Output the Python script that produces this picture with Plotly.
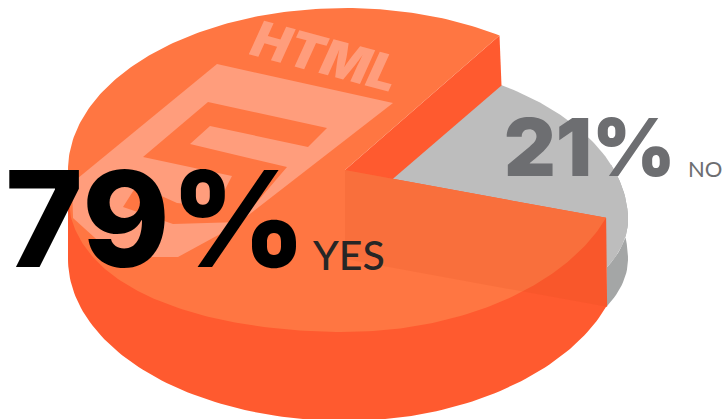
import numpy as np
import plotly.graph_objects as go

# data
categories = ["YES", "NO"]
shares = [79, 21]

# pie geometry in the picture's pixel space
W, H = 723, 419
CX, CY, RX, RY = 345, 170, 277, 162
DEPTH_TOTAL = 89
DROP = 50
GREY_DEPTH = 39
GREY_RX, GREY_RY, GREY_RY_LOW = 283, 162, 125
START = -19.5
wedge = shares[1] / sum(shares) * 360
END = START + wedge


def rim(deg, rx=RX, ry=RY, cx=CX, cy=CY, left_sag=0, right_lift=7, ry_low=None):
    t = np.radians(np.atleast_1d(deg))
    x = cx + rx * np.cos(t)
    s = np.sin(-t)  # positive on the lower half of the picture
    low = ry if ry_low is None else ry_low
    y = cy + np.where(s > 0, low, ry) * s
    ramp = np.clip(s / 0.12, 0, 1)
    y = y + left_sag * np.maximum(0, -np.cos(t)) ** 2 * ramp
    y = y - right_lift * np.maximum(0, np.cos(t)) ** 2 * ramp
    return x, y


def grey_rim(deg):
    return rim(deg, GREY_RX, GREY_RY, CX, CY + DROP, right_lift=0, ry_low=GREY_RY_LOW)


def poly(fig, x, y, color, name):
    fig.add_trace(go.Scatter(x=list(x), y=list(y), mode="lines", fill="toself",
                             fillcolor=color, line=dict(width=0), hoverinfo="skip",
                             name=name, showlegend=False))


fig = go.Figure()

# grey slice, dropped below the orange one (tucked slightly under the orange cut faces)
a = np.linspace(START - 3, END + 1.5, 80)
gx, gy = grey_rim(a)
side_a = np.linspace(START - 3, 20, 30)
sx, sy = grey_rim(side_a)
poly(fig, np.r_[sx, sx[::-1]], np.r_[sy + GREY_DEPTH, sy[::-1]], "#a4a6a6", "NO side")
poly(fig, np.r_[CX, gx], np.r_[CY + DROP, gy], "#bdbdbd", "NO")

# orange slice outer wall
low = np.linspace(START, -180, 120)
lx, ly = rim(low)
r2x, r2y = rim(START)
poly(fig, np.r_[r2x, r2x + 1, lx, CX - RX, CX], np.r_[r2y, r2y + DEPTH_TOTAL, ly + DEPTH_TOTAL, CY, CY],
     "#ff5a2f", "YES wall")

# first cut face
r1x, r1y = rim(END)
poly(fig, [CX, r1x[0], r1x[0] + 2, CX], [CY, r1y[0], r1y[0] + DROP, CY + DROP], "#ff5a2f", "YES cut")

# top face
top = np.linspace(END, 360 + START, 300)
tx, ty = rim(top, left_sag=24)
poly(fig, np.r_[CX, tx], np.r_[CY, ty], "#ff7642", "YES")

# second cut face seen through the top
poly(fig, [CX, r2x[0], r2x[0] + 1, CX], [CY, r2y[0], r2y[0] + DEPTH_TOTAL, CY + DEPTH_TOTAL],
     "rgba(205,70,25,0.13)", "YES cut 2")

light = "#ff9d7c"
shapes = [
    dict(type="path", layer="above", line_width=0, fillcolor=light,
         path="M217,64 L393,103 L233,227 L178,257 L116,257 L73,218 L72,183 Z"),
    dict(type="path", layer="above", line_width=0, fillcolor="#ff7642",
         path="M208,102 L327,128 L308,147 L210,126 L190,144 L287,167 L240,222 L173,224 "
              "L123,207 L137,185 L177,203 L216,207 L232,176 L143,157 Z"),
]

fs = "Inter, Lato, sans-serif"
anns = [
    dict(x=156, y=218, text=f"{shares[0]}%", font=dict(family=fs, size=133, color="#000000", weight=800)),
    dict(x=348, y=254, text=categories[0], font=dict(family="Lato", size=41, color="#262626", weight=500)),
    dict(x=589.5, y=146, text=f"{shares[1]}%", font=dict(family=fs, size=80, color="#6d6e71", weight=900)),
    dict(x=705, y=168, text=categories[1], font=dict(family="Lato", size=22, color="#6d6e71", weight=400)),
    dict(x=325, y=56, text="<i>HTML</i>", textangle=15, font=dict(family=fs, size=50, color=light, weight=900)),
]
for an in anns:
    an.update(xref="x", yref="y", showarrow=False, xanchor="center", yanchor="middle")

fig.update_layout(
    width=W, height=H, margin=dict(l=0, r=0, t=0, b=0),
    paper_bgcolor="white", plot_bgcolor="white", showlegend=False,
    xaxis=dict(range=[0, W], visible=False, fixedrange=True),
    yaxis=dict(range=[H, 0], visible=False, fixedrange=True),
    shapes=shapes, annotations=anns,
)
fig.write_html("out.html", config=dict(displayModeBar=False),
               post_script="document.body.style.margin='0';")
